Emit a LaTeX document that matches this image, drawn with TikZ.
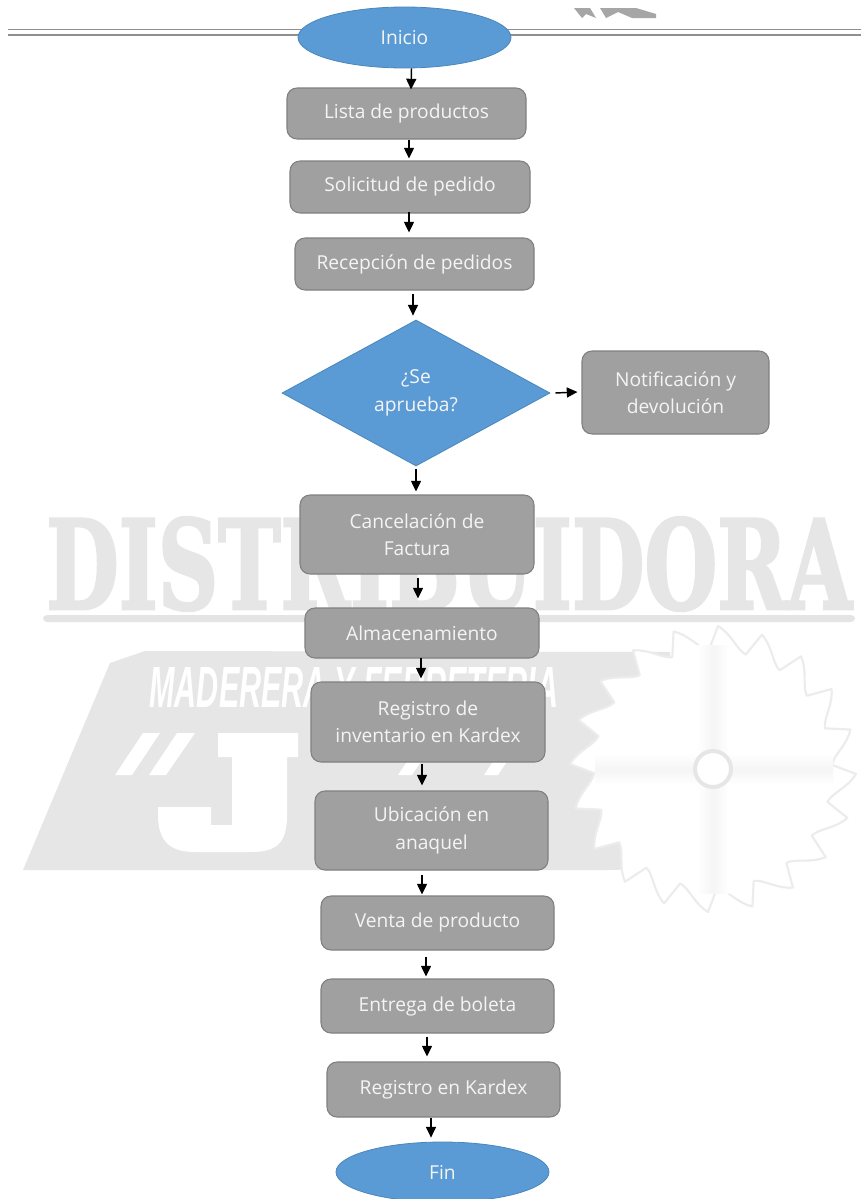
\documentclass[tikz,border=0pt]{standalone}
\usepackage{fontspec}
\usepackage{graphicx}
\usetikzlibrary{shapes.geometric,arrows.meta,calc}
\setmainfont{Open Sans}
\newfontfamily\wmslab[FakeBold=2.2]{DejaVu Serif Condensed Bold}
\newfontfamily\wmital{Liberation Sans Bold Italic}
\definecolor{boxgray}{HTML}{A0A0A0}
\definecolor{boxedge}{HTML}{808080}
\definecolor{flowblue}{HTML}{5B9BD5}
\definecolor{blueedge}{HTML}{4A86BC}
\definecolor{labelwhite}{HTML}{F4F4F4}
\definecolor{wmgray}{HTML}{E6E6E6}
\definecolor{wmshadow}{HTML}{E4E4E4}
\definecolor{sawline}{HTML}{ECECEC}
\definecolor{sawband}{HTML}{F5F5F5}
\definecolor{headline}{HTML}{8F8F8F}
\tikzset{
  proc/.style={draw=boxedge,line width=0.8pt,fill=boxgray,rounded corners=7.5pt,text=labelwhite,align=center,inner sep=0pt,font=\labelfont},
  term/.style={ellipse,draw=blueedge,line width=0.6pt,fill=flowblue,text=labelwhite,inner sep=0pt,font=\labelfont},
  decide/.style={diamond,draw=blueedge,line width=0.6pt,fill=flowblue,text=labelwhite,align=center,inner sep=0pt,font=\labelfont},
  flow/.style={draw=black,line width=1.1pt,-{Triangle[length=8pt,width=7.5pt]}},
  wm/.style={inner sep=0pt,outer sep=0pt}
}
\newcommand{\labelfont}{\fontsize{14.4pt}{20.6pt}\selectfont}
\newcommand{\pxnode}[7]{\node[#1,minimum width={(#5-#3)*0.75pt},minimum height={(#6-#4)*0.75pt}] (#2) at ({(#3+#5)/2},{(#4+#6)/2}) {#7};}
\begin{document}
\begin{tikzpicture}[x=0.75pt,y=-0.75pt]
\path[use as bounding box] (0,0) rectangle (861,1199);
\clip (0,0) rectangle (861,1199);
\fill[white] (0,0) rectangle (861,1199);
% watermark: lettering with its shadow strip
\fill[wmshadow,rounded corners=3pt] (43,615) rectangle (855,622);
\node[wm,text=wmgray,anchor=center] (wmtext) at (449,564) {\resizebox{604pt}{69pt}{\wmslab DISTRIBUIDORA}};
% watermark: band
\fill[wmgray] (23,870) -- (110,663) -- (145,651) -- (670,652) -- (670,868) -- (610,870) -- cycle;
\node[wm,text=white,anchor=center] (wmsub) at (354,687) {\resizebox{306.75pt}{30pt}{\wmital MADERERA Y FERRETERIA}};
\fill[white] (115,775) -- (132,775) -- (160,733) -- (143,733) -- cycle;
\fill[white] (149,775) -- (166,775) -- (195,733) -- (177,733) -- cycle;
\fill[white] (398,775) -- (412,775) -- (430,748) -- (416,748) -- cycle;
\fill[white] (484,775) -- (498,775) -- (516,748) -- (502,748) -- cycle;
\fill[white] (218,733) -- (298,733) -- (298,757) -- (287,757) -- (287,815)
  .. controls (287,845) and (275,852) .. (250,852) -- (195,852)
  .. controls (172,852) and (158,843) .. (158,815) -- (158,807) -- (211,807) -- (211,825) -- (232,825) -- (232,757) -- (218,757) -- cycle;
% watermark: saw blade
\coordinate (sawc) at (713,769);
\coordinate (t0) at ($(sawc)+(-88:143)$);
\fill[white,draw=sawline,line width=1.6pt,line join=round]
  (t0) \foreach \i in {0,...,19}{
    .. controls ($(sawc)+({-88+18*\i+6}:136)$) and ($(sawc)+({-88+18*\i+9}:122)$) .. ($(sawc)+({-88+18*\i+14}:119)$)
    -- ($(sawc)+({-88+18*\i+18}:143)$)
  } -- cycle;
\shade[left color=white,right color=sawband] (697,645) rectangle (713,893);
\shade[left color=sawband,right color=white] (713,645) rectangle (729,893);
\shade[top color=white,bottom color=sawband] (595,753) rectangle (833,769);
\shade[top color=sawband,bottom color=white] (595,769) rectangle (833,785);
\draw[wmgray,fill=white,line width=3pt] (sawc) circle[radius=18];
% top remains of the header
\fill[black!35] (574,8) -- (590,8) -- (596,18) -- (586,14) -- (582,18) -- cycle;
\fill[black!35] (600,8) -- (636,8) -- (656,14) -- (656,18) -- (632,18) -- (618,12) -- (606,18) -- cycle;
\draw[headline,line width=1.2pt] (8,29.5) -- (861,29.5);
\draw[headline,line width=1.2pt] (8,35) -- (861,35);
% flow nodes
\pxnode{term}{inicio}{298}{7}{511}{68}{Inicio}
\pxnode{proc}{lista}{287}{88}{526}{139}{Lista de productos}
\pxnode{proc}{solicitud}{290}{161}{530}{213}{Solicitud de pedido}
\pxnode{proc}{recepcion}{295}{238}{534}{290}{Recepción de pedidos}
\pxnode{decide}{aprueba}{282}{320}{550}{466}{¿Se\\aprueba?}
\pxnode{proc}{notif}{582}{351}{769}{434}{Notificación y\\devolución}
\pxnode{proc}{cancel}{300}{495}{534}{574}{Cancelación de\\Factura}
\pxnode{proc}{almacen}{305}{608}{539}{658}{Almacenamiento}
\pxnode{proc}{reginv}{311}{682}{545}{762}{Registro de\\inventario en Kardex}
\pxnode{proc}{ubic}{315}{791}{548}{870}{Ubicación en\\anaquel}
\pxnode{proc}{venta}{321}{896}{554}{950}{Venta de producto}
\pxnode{proc}{entrega}{321}{979}{554}{1033}{Entrega de boleta}
\pxnode{proc}{regkar}{327}{1062}{560}{1117}{Registro en Kardex}
\pxnode{term}{fin}{336}{1142}{549}{1202}{Fin}
% connectors
\draw[flow] ([shift={(7,0)}]inicio.south) -- ([shift={(4.5,2)}]lista.north);
\draw[flow] ([shift={(2.5,0)}]lista.south) -- ([shift={(-1,-2)}]solicitud.north);
\draw[flow] ([shift={(-1,-2)}]solicitud.south) -- ([shift={(-5.5,-5)}]recepcion.north);
\draw[flow] ([shift={(-1.5,3)}]recepcion.south) -- ([shift={(-3,-4)}]aprueba.north);
\draw[flow] ([shift={(5,0)}]aprueba.east) -- ([shift={(-4,-0.5)}]notif.west);
\draw[flow] ([shift={(0,3)}]aprueba.south) -- ([shift={(-1,-3)}]cancel.north);
\draw[flow] ([shift={(1,3)}]cancel.south) -- ([shift={(-4,-9)}]almacen.north);
\draw[flow] ([shift={(-1,-1)}]almacen.south) -- ([shift={(-7,-3)}]reginv.north);
\draw[flow] ([shift={(-6,1)}]reginv.south) -- ([shift={(-9.5,-5)}]ubic.north);
\draw[flow] ([shift={(-9.5,4)}]ubic.south) -- ([shift={(-15.5,-1)}]venta.north);
\draw[flow] ([shift={(-11.5,6)}]venta.south) -- ([shift={(-11.5,-2)}]entrega.north);
\draw[flow] ([shift={(-10.5,3)}]entrega.south) -- ([shift={(-16.5,-5)}]regkar.north);
\draw[flow] ([shift={(-12.5,0)}]regkar.south) -- ([shift={(-11.5,-4)}]fin.north);
\end{tikzpicture}
\end{document}
